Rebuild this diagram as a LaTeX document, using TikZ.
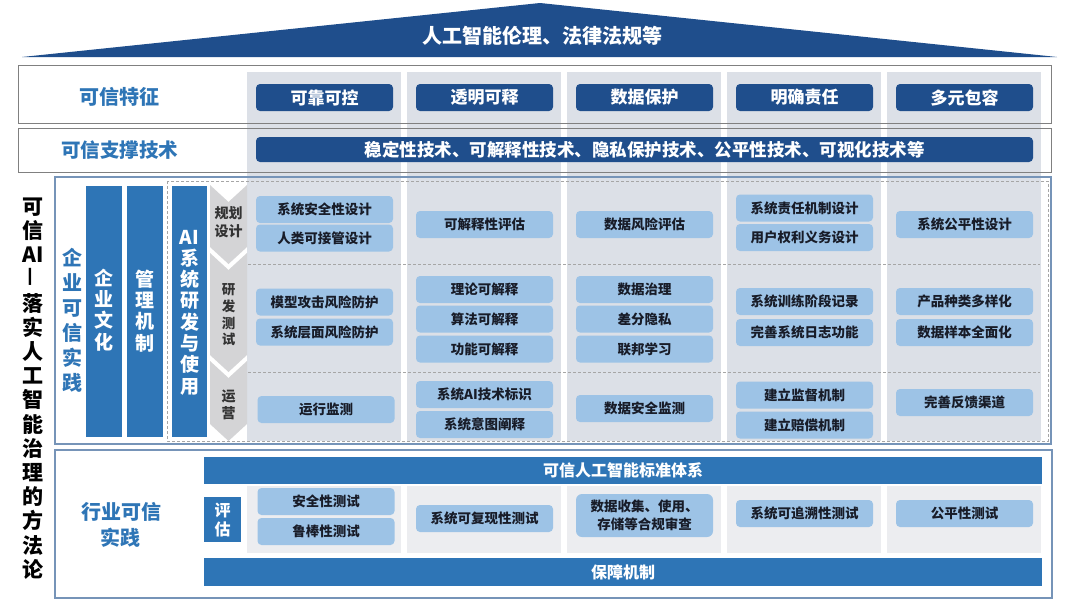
\documentclass[tikz,border=0pt]{standalone}
\usepackage{fontspec}
\setmainfont{Noto Sans CJK SC}
\usepackage{tikz}

\definecolor{navy}{RGB}{31,78,140}
\definecolor{midblue}{RGB}{46,117,182}
\definecolor{lightblue}{RGB}{157,195,230}
\definecolor{colgray}{RGB}{220,224,231}
\definecolor{cellgray}{RGB}{236,237,240}
\definecolor{chevgray}{RGB}{212,212,214}
\definecolor{framegray}{RGB}{128,128,128}
\definecolor{frameblue}{RGB}{118,148,184}
\definecolor{boxtext}{RGB}{24,28,40}

\begin{document}
\begin{tikzpicture}[x=1pt,y=-1pt,
	feat/.style={fill=navy, rounded corners=4pt, minimum width=137pt, minimum height=27pt, inner sep=0pt, text=white, font=\fontsize{17}{17}\selectfont\bfseries},
	item/.style={fill=lightblue, rounded corners=4pt, minimum width=137pt, minimum height=27pt, inner sep=0pt, text=boxtext, font=\fontsize{13.5}{13.5}\selectfont\bfseries},
	bluelabel/.style={text=midblue, align=center, inner sep=0pt, font=\fontsize{20}{26}\selectfont\bfseries},
	vbar/.style={text=white, align=center, inner sep=0pt, font=\fontsize{19}{21.3}\selectfont\bfseries},
	stagetext/.style={text=black!80, align=center, inner sep=0pt},
	wideband/.style={fill=midblue, minimum width=838pt, minimum height=27pt, inner sep=0pt, text=white, font=\fontsize{16}{16}\selectfont\bfseries}]
	\useasboundingbox (0,0) rectangle (1080,608);
	\fill[white] (0,0) rectangle (1080,608);

	% roof
	\fill[navy] (22,57) -- (540,3) -- (1057,57) -- cycle;
	\node[text=white, inner sep=0pt, font=\fontsize{20}{20}\selectfont\bfseries] (title) at (542,36) {人工智能伦理、法律法规等};

	% gray columns
	\fill[colgray] (247,72) rectangle (401,441);
	\fill[colgray] (407,72) rectangle (561,441);
	\fill[colgray] (567,72) rectangle (721,441);
	\fill[colgray] (727,72) rectangle (881,441);
	\fill[colgray] (887,72) rectangle (1041,441);

	% frames
	\draw[framegray, line width=1pt] (18,65) rectangle (1051,123);
	\draw[framegray, line width=1pt] (18,128) rectangle (1051,172);
	\draw[frameblue, line width=1.4pt] (55,177) rectangle (1051,444);
	\draw[frameblue, line width=1.4pt] (55,450) rectangle (1052,598);
	\draw[gray!70, dash pattern=on 3pt off 2pt] (167,181) rectangle (1048,441);
	\draw[gray!70, dash pattern=on 3pt off 2pt] (248,264) -- (1040,264);
	\draw[gray!70, dash pattern=on 3pt off 2pt] (248,372) -- (1040,372);

	% row 1 and row 2
	\node[bluelabel] (lblfeature) at (119,97) {可信特征};
	\node[feat] (feat1) at (324.5,97.5) {可靠可控};
	\node[feat] (feat2) at (484.5,97.5) {透明可释};
	\node[feat] (feat3) at (644.5,97.5) {数据保护};
	\node[feat] (feat4) at (804.5,97.5) {明确责任};
	\node[feat] (feat5) at (964.5,97.5) {多元包容};
	\node[bluelabel, font=\fontsize{19.5}{19.5}\selectfont\bfseries] (lbltech) at (119.5,150) {可信支撑技术};
	\node[feat, minimum width=777pt, minimum height=25pt, font=\fontsize{17.5}{17.5}\selectfont\bfseries] (techbar) at (644.5,149.5) {稳定性技术、可解释性技术、隐私保护技术、公平性技术、可视化技术等};

	% method title
	\node[align=center, inner sep=0pt, font=\fontsize{21}{24.2}\selectfont\bfseries] (lblmethod) at (33,388.5) {可\\信\\AI\\\rotatebox{90}{—}\\落\\实\\人\\工\\智\\能\\治\\理\\的\\方\\法\\论};

	% enterprise practice
	\node[bluelabel, font=\fontsize{20}{25}\selectfont\bfseries] (lblenterprise) at (72,320.5) {企\\业\\可\\信\\实\\践};
	\fill[midblue] (86,186) rectangle (122,437);
	\fill[midblue] (127,186) rectangle (163,437);
	\fill[midblue] (172,186) rectangle (207,437);
	\node[vbar] (culture) at (104,310) {企\\业\\文\\化};
	\node[vbar] (mgmt) at (145,311) {管\\理\\机\\制};
	\node[vbar] (aidev) at (189.5,312.5) {AI\\系\\统\\研\\发\\与\\使\\用};

	% stages
	\fill[chevgray] (210,185) -- (228.5,202) -- (247,185) -- (247,247) -- (228.5,264) -- (210,247) -- cycle;
	\fill[chevgray] (210,253) -- (228.5,270) -- (247,253) -- (247,355) -- (228.5,372) -- (210,355) -- cycle;
	\fill[chevgray] (210,361) -- (228.5,378) -- (247,361) -- (247,424) -- (228.5,441) -- (210,424) -- cycle;
	\node[stagetext, font=\fontsize{14}{18}\selectfont\bfseries] (stageplan) at (228.5,222) {规划\\设计};
	\node[stagetext, font=\fontsize{13.5}{16.7}\selectfont\bfseries] (stagedev) at (228.5,315) {研\\发\\测\\试};
	\node[stagetext, font=\fontsize{14}{17.5}\selectfont\bfseries] (stageops) at (228.5,405) {运\\营};

	% enterprise items
	\node[item] (plan1a) at (324.5,209.5) {系统安全性设计};
	\node[item] (plan1b) at (324.5,238) {人类可接管设计};
	\node[item] (dev1a) at (324.5,302) {模型攻击风险防护};
	\node[item] (dev1b) at (324.5,332) {系统层面风险防护};
	\node[item] (ops1a) at (326,409.5) {运行监测};

	\node[item] (plan2a) at (484.5,224.5) {可解释性评估};
	\node[item] (dev2a) at (484.5,289.5) {理论可解释};
	\node[item] (dev2b) at (484.5,319) {算法可解释};
	\node[item] (dev2c) at (484.5,349) {功能可解释};
	\node[item] (ops2a) at (484.5,394.5) {系统AI技术标识};
	\node[item] (ops2b) at (484.5,424.5) {系统意图阐释};

	\node[item] (plan3a) at (644.5,224.5) {数据风险评估};
	\node[item] (dev3a) at (644.5,289.5) {数据治理};
	\node[item] (dev3b) at (644.5,319) {差分隐私};
	\node[item] (dev3c) at (644.5,349) {联邦学习};
	\node[item] (ops3a) at (644.5,408.5) {数据安全监测};

	\node[item] (plan4a) at (804.5,208) {系统责任机制设计};
	\node[item] (plan4b) at (804.5,237.5) {用户权利义务设计};
	\node[item] (dev4a) at (804.5,301.5) {系统训练阶段记录};
	\node[item] (dev4b) at (804.5,332.5) {完善系统日志功能};
	\node[item] (ops4a) at (804.5,395) {建立监督机制};
	\node[item] (ops4b) at (804.5,425) {建立赔偿机制};

	\node[item] (plan5a) at (964.5,224.5) {系统公平性设计};
	\node[item] (dev5a) at (964.5,301.5) {产品种类多样化};
	\node[item] (dev5b) at (964.5,332.5) {数据样本全面化};
	\node[item] (ops5a) at (964.5,402.5) {完善反馈渠道};

	% industry practice
	\node[bluelabel] (lblindustry) at (121,525) {行业可信\\实践};
	\node[wideband] (stdbar) at (623,470) {可信人工智能标准体系};
	\node[wideband, minimum height=28pt] (guarbar) at (623,572) {保障机制};
	\node[fill=midblue, minimum width=37pt, minimum height=45pt, inner sep=0pt, text=white, align=center, font=\fontsize{16}{19}\selectfont\bfseries] (evalbox) at (222.5,519.5) {评\\估};
	\fill[cellgray] (247,486) rectangle (401,553);
	\fill[cellgray] (407,486) rectangle (561,553);
	\fill[cellgray] (567,486) rectangle (721,553);
	\fill[cellgray] (727,486) rectangle (881,553);
	\fill[cellgray] (887,486) rectangle (1041,553);
	\node[item] (test1a) at (326,501.5) {安全性测试};
	\node[item] (test1b) at (326,531.5) {鲁棒性测试};
	\node[item] (test2) at (484.5,518.5) {系统可复现性测试};
	\node[item, minimum height=43pt, rounded corners=6pt, align=center, font=\fontsize{13.5}{18}\selectfont\bfseries] (test3) at (644.5,515.5) {数据收集、使用、\\存储等合规审查};
	\node[item] (test4) at (804.5,513.5) {系统可追溯性测试};
	\node[item] (test5) at (964.5,513.5) {公平性测试};
\end{tikzpicture}
\end{document}
